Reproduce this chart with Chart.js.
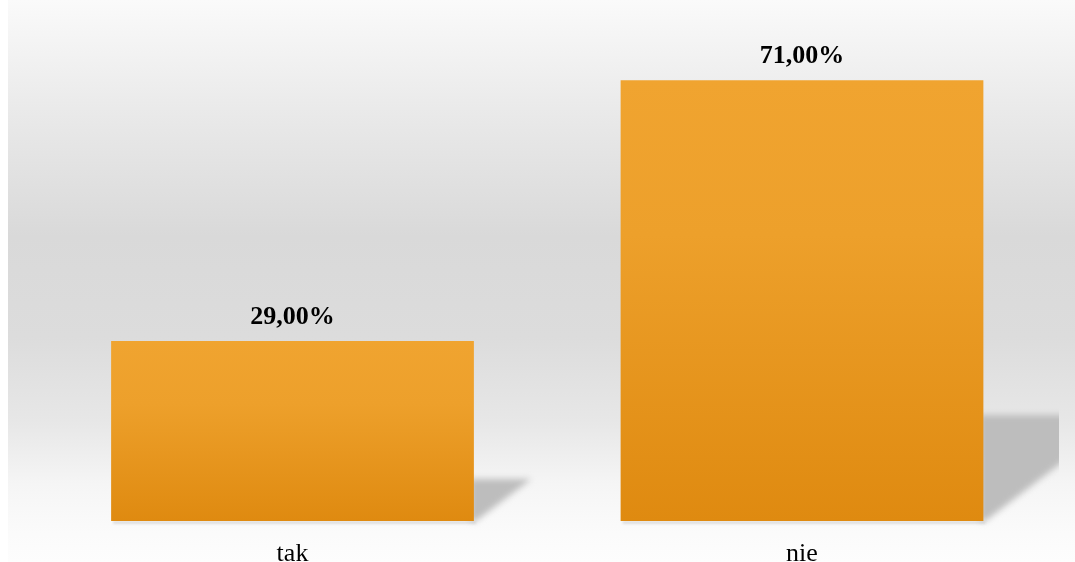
<!DOCTYPE html>
<html>
<head>
<meta charset="utf-8">
<script src="https://cdn.jsdelivr.net/npm/chart.js@4/dist/chart.umd.min.js"></script>
<style>
  html, body { margin: 0; padding: 0; background: #ffffff; }
  #wrap { position: absolute; left: 0; top: 0; width: 1075px; height: 562px; }
</style>
</head>
<body>
<div id="wrap"><canvas id="myBarChart"></canvas></div>
<script>
// --- Data ---
const categories = ['tak', 'nie'];
const shareValues = [29, 71];
const valueLabels = ['29,00%', '71,00%'];

// --- Background panel (grey gradient behind the plot) ---
const panelBackground = {
    id: 'panelBackground',
    beforeDraw(chart) {
        const ctx = chart.ctx;
        const g = ctx.createLinearGradient(0, 0, 0, chart.height);
        g.addColorStop(0, '#fafafa');
        g.addColorStop(0.18, '#ebebeb');
        g.addColorStop(0.42, '#d9d9d9');
        g.addColorStop(0.6, '#dcdcdc');
        g.addColorStop(0.75, '#e7e7e7');
        g.addColorStop(0.86, '#f5f5f5');
        g.addColorStop(0.95, '#fbfbfb');
        g.addColorStop(1, '#fdfdfd');
        ctx.save();
        ctx.fillStyle = g;
        ctx.fillRect(8, 0, chart.width - 8, chart.height);
        ctx.restore();
    }
};

// --- Skewed floor shadows next to each bar ---
const barShadows = {
    id: 'barShadows',
    beforeDatasetsDraw(chart) {
        const ctx = chart.ctx;
        const meta = chart.getDatasetMeta(0);
        ctx.save();
        ctx.beginPath();
        ctx.rect(0, 0, 1059, chart.height);
        ctx.clip();
        meta.data.forEach(bar => {
            const right = bar.x + bar.width / 2;
            const left = bar.x - bar.width / 2;
            const base = bar.base;
            const sh = (base - bar.y) * 0.245;
            ctx.save();
            ctx.filter = 'blur(3px)';
            ctx.fillStyle = '#bdbdbd';
            ctx.beginPath();
            ctx.moveTo(right - 4, base - sh + 2);
            ctx.lineTo(right + sh * 1.3, base - sh + 2);
            ctx.lineTo(right + 2, base);
            ctx.lineTo(right - 4, base);
            ctx.closePath();
            ctx.fill();
            // faint shade under the bar
            ctx.filter = 'blur(1px)';
            ctx.fillStyle = 'rgba(190,190,190,0.45)';
            ctx.fillRect(left + 2, base, bar.width, 3);
            ctx.restore();
        });
        ctx.restore();
    }
};

// --- Value labels above bars ---
const valueLabelPlugin = {
    id: 'valueLabelPlugin',
    afterDatasetsDraw(chart) {
        const ctx = chart.ctx;
        const meta = chart.getDatasetMeta(0);
        ctx.save();
        ctx.font = 'bold 26px "Liberation Serif", "Times New Roman", serif';
        ctx.fillStyle = '#000000';
        ctx.textAlign = 'center';
        ctx.textBaseline = 'alphabetic';
        meta.data.forEach((bar, i) => {
            ctx.fillText(valueLabels[i], bar.x, bar.y - 17);
        });
        ctx.restore();
    }
};

function barGradient(context) {
    const chart = context.chart;
    if (!chart.chartArea) return '#e89a20';
    const yScale = chart.scales.y;
    const top = yScale.getPixelForValue(shareValues[context.dataIndex]);
    const bottom = yScale.getPixelForValue(0);
    const g = chart.ctx.createLinearGradient(0, top, 0, bottom);
    g.addColorStop(0, '#f0a430');
    g.addColorStop(0.35, '#eda02b');
    g.addColorStop(1, '#df8a10');
    return g;
}

const chartCanvas = document.getElementById('myBarChart');
new Chart(chartCanvas.getContext('2d'), {
    type: 'bar',
    data: {
        labels: categories,
        datasets: [{
            data: shareValues,
            backgroundColor: barGradient,
            borderWidth: 0,
            barPercentage: 0.712,
            categoryPercentage: 1.0
        }]
    },
    options: {
        responsive: true,
        maintainAspectRatio: false,
        animation: false,
        layout: { padding: { left: 37.75, right: 18.25, top: 12, bottom: 0 } },
        scales: {
            y: {
                display: false,
                min: 0,
                max: 82
            },
            x: {
                grid: { display: false },
                border: { display: false },
                ticks: {
                    color: '#000000',
                    padding: 10,
                    font: { family: '"Liberation Serif", "Times New Roman", serif', size: 26 }
                },
                afterFit(scale) { scale.height = 41; }
            }
        },
        plugins: {
            legend: { display: false },
            tooltip: { enabled: false }
        }
    },
    plugins: [panelBackground, barShadows, valueLabelPlugin]
});
</script>
</body>
</html>
